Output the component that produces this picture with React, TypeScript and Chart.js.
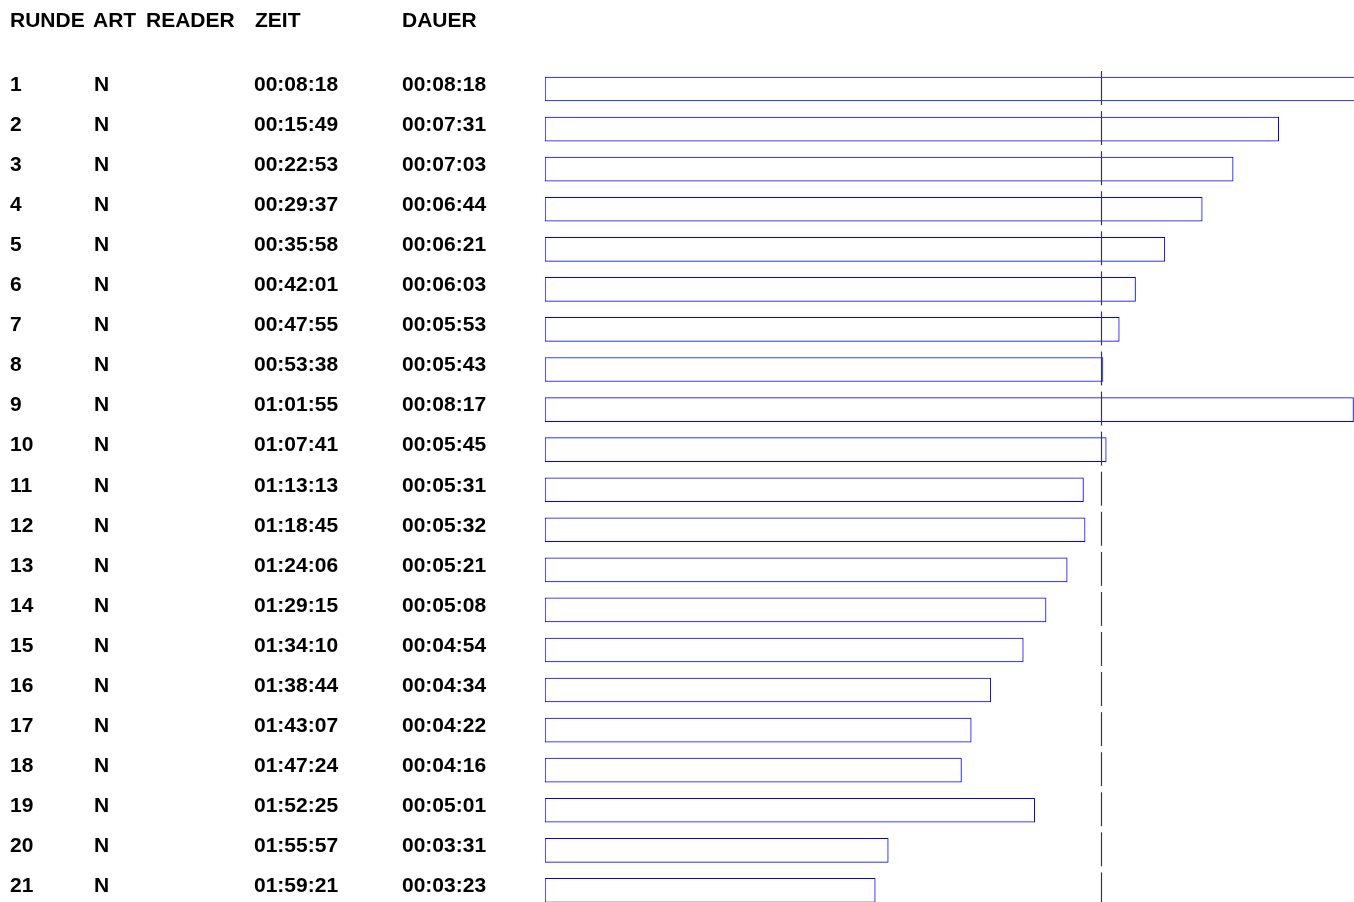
import React, { useEffect, useRef } from "react";
import { Chart, registerables } from "chart.js";

Chart.register(...registerables);

const headers = ["RUNDE", "ART", "READER", "ZEIT", "DAUER"];
const runden = ["1","2","3","4","5","6","7","8","9","10","11","12","13","14","15","16","17","18","19","20","21"];
const art = ["N","N","N","N","N","N","N","N","N","N","N","N","N","N","N","N","N","N","N","N","N"];
const reader = ["","","","","","","","","","","","","","","","","","","","",""];
const zeit = [
  "00:08:18","00:15:49","00:22:53","00:29:37","00:35:58","00:42:01","00:47:55",
  "00:53:38","01:01:55","01:07:41","01:13:13","01:18:45","01:24:06","01:29:15",
  "01:34:10","01:38:44","01:43:07","01:47:24","01:52:25","01:55:57","01:59:21",
];
const dauer = [
  "00:08:18","00:07:31","00:07:03","00:06:44","00:06:21","00:06:03","00:05:53",
  "00:05:43","00:08:17","00:05:45","00:05:31","00:05:32","00:05:21","00:05:08",
  "00:04:54","00:04:34","00:04:22","00:04:16","00:05:01","00:03:31","00:03:23",
];
const averageSeconds = 341.5;

const toSeconds = (s: string) => {
  const [h, m, sec] = s.split(":").map(Number);
  return h * 3600 + m * 60 + sec;
};
const durationSeconds = dauer.map(toSeconds);

const HEADER_FONT = "bold 21px 'Liberation Sans', Arial, Helvetica, sans-serif";
const ROW_FONT = "bold 21px 'Liberation Sans', Arial, Helvetica, sans-serif";
const headerX = [10, 93, 146, 255, 402];
const colX = [10, 94, 146, 254, 402];

const tablePlugin = {
  id: "tablePlugin",
  afterDraw(chart: any) {
    const ctx = chart.ctx;
    const yScale = chart.scales.y;
    const xScale = chart.scales.x;
    ctx.save();
    // average segments
    const ax = Math.round(xScale.getPixelForValue(averageSeconds)) + 0.5;
    ctx.strokeStyle = "#3a3a3a";
    ctx.lineWidth = 1.2;
    runden.forEach((_, i) => {
      const cy = yScale.getPixelForValue(i);
      ctx.beginPath();
      ctx.moveTo(ax, cy - 18);
      ctx.lineTo(ax, cy + 16);
      ctx.stroke();
    });
    // text
    ctx.fillStyle = "#000000";
    ctx.textBaseline = "middle";
    ctx.textAlign = "left";
    ctx.font = HEADER_FONT;
    headers.forEach((h, j) => ctx.fillText(h, headerX[j], 21));
    ctx.font = ROW_FONT;
    runden.forEach((r, i) => {
      const ty = yScale.getPixelForValue(i) - 4;
      const cols = [r, art[i], reader[i], zeit[i], dauer[i]];
      cols.forEach((c, j) => {
        if (c) ctx.fillText(c, colX[j], ty);
      });
    });
    ctx.restore();
  },
};

export default function App() {
  const ref = useRef<HTMLCanvasElement>(null);
  useEffect(() => {
    if (!ref.current) return;
    const chart = new Chart(ref.current, {
      type: "bar",
      data: {
        datasets: [
          {
            data: durationSeconds.map((v, i) => ({ x: v, y: i })),
            backgroundColor: "#ffffff",
            borderColor: "#0000ff",
            borderWidth: 1,
            borderSkipped: false,
            barThickness: 24,
          },
        ],
      },
      options: {
        indexAxis: "y",
        responsive: false,
        animation: false,
        events: [],
        layout: { padding: { left: 545, right: 0, top: 69, bottom: 0 } },
        plugins: { legend: { display: false }, tooltip: { enabled: false } },
        scales: {
          x: { type: "linear", min: 0, max: 497.3, display: false, offset: false },
          y: { type: "linear", min: -0.5, max: 20.29, reverse: true, display: false, offset: false },
        },
      },
      plugins: [tablePlugin],
    } as any);
    return () => chart.destroy();
  }, []);
  return (
    <div style={{ position: "absolute", left: 0, top: 0, width: 1354, height: 902, background: "#fff" }}>
      <canvas ref={ref} width={1354} height={902} style={{ display: "block" }} />
    </div>
  );
}
